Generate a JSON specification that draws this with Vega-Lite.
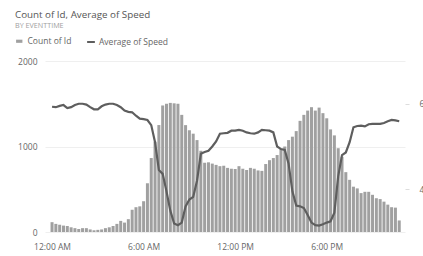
{
  "$schema": "https://vega.github.io/schema/vega-lite/v6.json",
  "width": 360,
  "height": 171,
  "autosize": {"type": "none"},
  "padding": {"left": 45, "top": 61, "right": 18, "bottom": 24},
  "background": "white",
  "config": {"view": {"stroke": null}, "font": "Open Sans"},
  "title": {
    "text": "Count of Id, Average of Speed",
    "subtitle": "BY EVENTTIME",
    "anchor": "start",
    "frame": "group",
    "dx": -30,
    "offset": 8,
    "font": "Open Sans",
    "fontSize": 9.8,
    "fontWeight": "normal",
    "color": "#555555",
    "subtitleFont": "Open Sans",
    "subtitleFontSize": 7.2,
    "subtitleColor": "#a0a0a0",
    "subtitlePadding": 2
  },
  "data": {
    "values": [
      {"t": "2000-01-01T00:00Z", "count": 115, "speed": 5.93},
      {"t": "2000-01-01T00:15Z", "count": 95, "speed": 5.92},
      {"t": "2000-01-01T00:30Z", "count": 85, "speed": 5.95},
      {"t": "2000-01-01T00:45Z", "count": 75, "speed": 5.97},
      {"t": "2000-01-01T01:00Z", "count": 70, "speed": 5.90},
      {"t": "2000-01-01T01:15Z", "count": 55, "speed": 5.92},
      {"t": "2000-01-01T01:30Z", "count": 45, "speed": 5.97},
      {"t": "2000-01-01T01:45Z", "count": 35, "speed": 6.00},
      {"t": "2000-01-01T02:00Z", "count": 45, "speed": 6.00},
      {"t": "2000-01-01T02:15Z", "count": 45, "speed": 5.98},
      {"t": "2000-01-01T02:30Z", "count": 30, "speed": 5.92},
      {"t": "2000-01-01T02:45Z", "count": 20, "speed": 5.87},
      {"t": "2000-01-01T03:00Z", "count": 25, "speed": 5.87},
      {"t": "2000-01-01T03:15Z", "count": 30, "speed": 5.94},
      {"t": "2000-01-01T03:30Z", "count": 45, "speed": 5.98},
      {"t": "2000-01-01T03:45Z", "count": 55, "speed": 6.00},
      {"t": "2000-01-01T04:00Z", "count": 70, "speed": 6.00},
      {"t": "2000-01-01T04:15Z", "count": 95, "speed": 5.97},
      {"t": "2000-01-01T04:30Z", "count": 130, "speed": 5.92},
      {"t": "2000-01-01T04:45Z", "count": 110, "speed": 5.84},
      {"t": "2000-01-01T05:00Z", "count": 150, "speed": 5.81},
      {"t": "2000-01-01T05:15Z", "count": 260, "speed": 5.80},
      {"t": "2000-01-01T05:30Z", "count": 290, "speed": 5.72},
      {"t": "2000-01-01T05:45Z", "count": 300, "speed": 5.65},
      {"t": "2000-01-01T06:00Z", "count": 360, "speed": 5.64},
      {"t": "2000-01-01T06:15Z", "count": 570, "speed": 5.62},
      {"t": "2000-01-01T06:30Z", "count": 865, "speed": 5.50},
      {"t": "2000-01-01T06:45Z", "count": 1056, "speed": 5.10},
      {"t": "2000-01-01T07:00Z", "count": 1251, "speed": 4.45},
      {"t": "2000-01-01T07:15Z", "count": 1480, "speed": 4.36},
      {"t": "2000-01-01T07:30Z", "count": 1500, "speed": 3.95},
      {"t": "2000-01-01T07:45Z", "count": 1510, "speed": 3.50},
      {"t": "2000-01-01T08:00Z", "count": 1505, "speed": 3.20},
      {"t": "2000-01-01T08:15Z", "count": 1500, "speed": 3.16},
      {"t": "2000-01-01T08:30Z", "count": 1370, "speed": 3.22},
      {"t": "2000-01-01T08:45Z", "count": 1250, "speed": 3.60},
      {"t": "2000-01-01T09:00Z", "count": 1190, "speed": 3.76},
      {"t": "2000-01-01T09:15Z", "count": 1150, "speed": 3.82},
      {"t": "2000-01-01T09:30Z", "count": 1075, "speed": 4.20},
      {"t": "2000-01-01T09:45Z", "count": 950, "speed": 4.83},
      {"t": "2000-01-01T10:00Z", "count": 810, "speed": 4.87},
      {"t": "2000-01-01T10:15Z", "count": 815, "speed": 4.90},
      {"t": "2000-01-01T10:30Z", "count": 800, "speed": 5.00},
      {"t": "2000-01-01T10:45Z", "count": 785, "speed": 5.12},
      {"t": "2000-01-01T11:00Z", "count": 770, "speed": 5.30},
      {"t": "2000-01-01T11:15Z", "count": 775, "speed": 5.31},
      {"t": "2000-01-01T11:30Z", "count": 750, "speed": 5.32},
      {"t": "2000-01-01T11:45Z", "count": 740, "speed": 5.37},
      {"t": "2000-01-01T12:00Z", "count": 737, "speed": 5.37},
      {"t": "2000-01-01T12:15Z", "count": 770, "speed": 5.39},
      {"t": "2000-01-01T12:30Z", "count": 740, "speed": 5.37},
      {"t": "2000-01-01T12:45Z", "count": 725, "speed": 5.33},
      {"t": "2000-01-01T13:00Z", "count": 750, "speed": 5.31},
      {"t": "2000-01-01T13:15Z", "count": 740, "speed": 5.30},
      {"t": "2000-01-01T13:30Z", "count": 720, "speed": 5.33},
      {"t": "2000-01-01T13:45Z", "count": 715, "speed": 5.39},
      {"t": "2000-01-01T14:00Z", "count": 795, "speed": 5.38},
      {"t": "2000-01-01T14:15Z", "count": 840, "speed": 5.37},
      {"t": "2000-01-01T14:30Z", "count": 865, "speed": 5.33},
      {"t": "2000-01-01T14:45Z", "count": 900, "speed": 5.00},
      {"t": "2000-01-01T15:00Z", "count": 970, "speed": 4.94},
      {"t": "2000-01-01T15:15Z", "count": 1000, "speed": 4.92},
      {"t": "2000-01-01T15:30Z", "count": 1075, "speed": 4.60},
      {"t": "2000-01-01T15:45Z", "count": 1115, "speed": 3.95},
      {"t": "2000-01-01T16:00Z", "count": 1180, "speed": 3.62},
      {"t": "2000-01-01T16:15Z", "count": 1300, "speed": 3.60},
      {"t": "2000-01-01T16:30Z", "count": 1370, "speed": 3.56},
      {"t": "2000-01-01T16:45Z", "count": 1420, "speed": 3.40},
      {"t": "2000-01-01T17:00Z", "count": 1460, "speed": 3.22},
      {"t": "2000-01-01T17:15Z", "count": 1420, "speed": 3.16},
      {"t": "2000-01-01T17:30Z", "count": 1455, "speed": 3.15},
      {"t": "2000-01-01T17:45Z", "count": 1390, "speed": 3.18},
      {"t": "2000-01-01T18:00Z", "count": 1330, "speed": 3.22},
      {"t": "2000-01-01T18:15Z", "count": 1200, "speed": 3.25},
      {"t": "2000-01-01T18:30Z", "count": 1130, "speed": 3.45},
      {"t": "2000-01-01T18:45Z", "count": 980, "speed": 4.30},
      {"t": "2000-01-01T19:00Z", "count": 880, "speed": 4.80},
      {"t": "2000-01-01T19:15Z", "count": 700, "speed": 4.86},
      {"t": "2000-01-01T19:30Z", "count": 610, "speed": 5.10},
      {"t": "2000-01-01T19:45Z", "count": 530, "speed": 5.45},
      {"t": "2000-01-01T20:00Z", "count": 510, "speed": 5.48},
      {"t": "2000-01-01T20:15Z", "count": 455, "speed": 5.49},
      {"t": "2000-01-01T20:30Z", "count": 470, "speed": 5.47},
      {"t": "2000-01-01T20:45Z", "count": 470, "speed": 5.52},
      {"t": "2000-01-01T21:00Z", "count": 435, "speed": 5.53},
      {"t": "2000-01-01T21:15Z", "count": 395, "speed": 5.53},
      {"t": "2000-01-01T21:30Z", "count": 385, "speed": 5.53},
      {"t": "2000-01-01T21:45Z", "count": 355, "speed": 5.55},
      {"t": "2000-01-01T22:00Z", "count": 320, "speed": 5.59},
      {"t": "2000-01-01T22:15Z", "count": 290, "speed": 5.62},
      {"t": "2000-01-01T22:30Z", "count": 285, "speed": 5.61},
      {"t": "2000-01-01T22:45Z", "count": 135, "speed": 5.59}
    ]
  },
  "encoding": {
    "x": {
      "field": "t",
      "type": "temporal",
      "scale": {
        "type": "utc",
        "domain": [
          {"year": 1999, "month": 12, "date": 31, "hours": 23, "minutes": 52, "utc": true},
          {"year": 2000, "month": 1, "date": 1, "hours": 22, "minutes": 48, "utc": true}
        ]
      },
      "axis": {
        "title": null,
        "values": [
          {"year": 2000, "month": 1, "date": 1, "hours": 0, "utc": true},
          {"year": 2000, "month": 1, "date": 1, "hours": 6, "utc": true},
          {"year": 2000, "month": 1, "date": 1, "hours": 12, "utc": true},
          {"year": 2000, "month": 1, "date": 1, "hours": 18, "utc": true}
        ],
        "format": "%-I:%M %p",
        "labelFlush": false,
        "ticks": false,
        "domain": false,
        "grid": false,
        "labelFontSize": 8.5,
        "labelColor": "#666666",
        "labelPadding": 10
      }
    }
  },
  "layer": [
    {
      "mark": {"type": "bar", "width": 3},
      "encoding": {
        "y": {
          "field": "count",
          "type": "quantitative",
          "scale": {"domain": [0, 2000]},
          "axis": {
            "title": null,
            "orient": "left",
            "values": [0, 1000, 2000],
            "format": "d",
            "grid": true,
            "gridColor": "#efefef",
            "ticks": false,
            "domain": false,
            "labelFontSize": 8.5,
            "labelColor": "#666666",
            "labelPadding": 8
          }
        },
        "fill": {
          "datum": "Count of Id",
          "scale": {"range": ["#a0a0a0"]},
          "legend": {
            "title": null,
            "orient": "none",
            "legendX": -30,
            "legendY": -24,
            "padding": 0,
            "symbolType": "M-1,-0.5H1V0.5H-1Z",
            "symbolSize": 40,
            "labelFontSize": 8.5,
            "labelColor": "#666666",
            "labelOffset": 4
          }
        }
      }
    },
    {
      "mark": {"type": "line", "strokeWidth": 2.2},
      "encoding": {
        "y": {
          "field": "speed",
          "type": "quantitative",
          "scale": {"domain": [3, 7], "zero": false},
          "axis": {
            "title": null,
            "orient": "right",
            "values": [4, 6],
            "grid": false,
            "domain": false,
            "ticks": true,
            "tickSize": 4,
            "tickColor": "#dddddd",
            "labelFontSize": 8.5,
            "labelColor": "#666666",
            "labelPadding": 10
          }
        },
        "stroke": {
          "datum": "Average of Speed",
          "scale": {"range": ["#5e5e5e"]},
          "legend": {
            "title": null,
            "orient": "none",
            "legendX": 41,
            "legendY": -24,
            "padding": 0,
            "symbolType": "stroke",
            "symbolStrokeWidth": 2,
            "symbolSize": 60,
            "labelFontSize": 8.5,
            "labelColor": "#666666",
            "labelOffset": 3
          }
        }
      }
    }
  ],
  "resolve": {"scale": {"y": "independent"}}
}
